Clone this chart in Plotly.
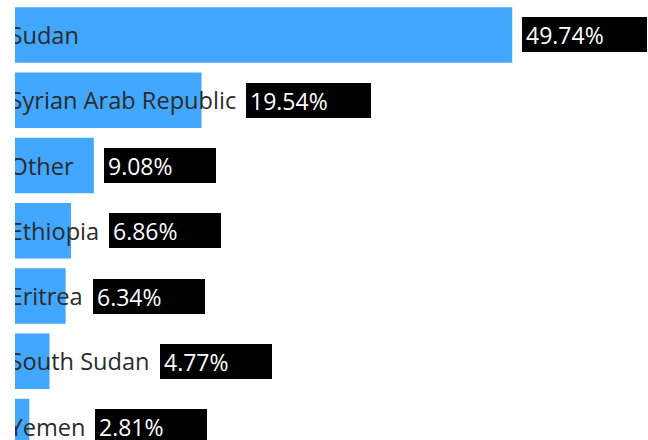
import plotly.graph_objects as go

# ---- data ----
categories = ["Sudan", "Syrian Arab Republic", "Other", "Ethiopia",
              "Eritrea", "South Sudan", "Yemen"]
shares = [49.74, 19.54, 9.08, 6.86, 6.34, 4.77, 2.81]
value_labels = [f"{v:.2f}%" for v in shares]

# ---- layout / style ----
W, H = 648, 440
ML = 15
X_RANGE = [1.419, 62.935]
Y_RANGE = [6.206, -0.536]
FONT = "Open Sans"
LABEL_SIZE = 23.6
VALUE_SIZE = 23
LABEL_COLOR = "#2b2b2b"
BAR_COLOR = "#41A7FF"
TEXTPAD = 3
LEAD = "\u00a0"
GAP = 10

# approximate Open Sans advance widths (em)
EM = {
    "0": .572, "1": .572, "2": .572, "3": .572, "4": .572, "5": .572,
    "6": .572, "7": .572, "8": .572, "9": .572, ".": .266, "%": .828,
    " ": .260, "\u00a0": .260,
    "a": .556, "b": .613, "c": .476, "d": .613, "e": .561, "h": .614,
    "i": .253, "l": .253, "m": .930, "n": .614, "o": .604, "p": .613,
    "r": .408, "t": .353, "u": .614, "y": .501,
    "A": .633, "E": .556, "O": .781, "R": .613, "S": .549, "Y": .541,
}


def text_width(s, size):
    return sum(EM.get(ch, .56) for ch in s) * size


ppu = (W - ML) / (X_RANGE[1] - X_RANGE[0])

fig = go.Figure(go.Bar(
    x=shares, y=categories, orientation="h",
    marker=dict(color=BAR_COLOR, line=dict(width=0)),
    text=[LEAD + c for c in categories],
    textposition="inside", insidetextanchor="start",
    constraintext="none", textangle=0,
    insidetextfont=dict(family=FONT, size=LABEL_SIZE, color=LABEL_COLOR),
    cliponaxis=True, hoverinfo="skip",
))

for c, v, lab in zip(categories, shares, value_labels):
    label_end = TEXTPAD + text_width(LEAD + c, LABEL_SIZE)
    bar_len = v * ppu
    shift = max(0.0, label_end - bar_len) + GAP
    fig.add_annotation(
        x=v, y=c, xref="x", yref="y", xanchor="left", yanchor="middle",
        xshift=shift, text=lab, showarrow=False, align="left",
        font=dict(family=FONT, size=VALUE_SIZE, color="white"),
        bgcolor="black", bordercolor="black", borderwidth=1, borderpad=3,
        width=text_width(lab, VALUE_SIZE) + 39, height=27,
    )

fig.update_layout(
    width=W, height=H,
    margin=dict(l=ML, r=0, t=0, b=0, pad=0),
    paper_bgcolor="white", plot_bgcolor="white",
    bargap=0.15, showlegend=False,
    xaxis=dict(range=X_RANGE, visible=False, fixedrange=True),
    yaxis=dict(categoryorder="array", categoryarray=categories,
               range=Y_RANGE, visible=False, fixedrange=True),
)

fig.write_html("out.html")
